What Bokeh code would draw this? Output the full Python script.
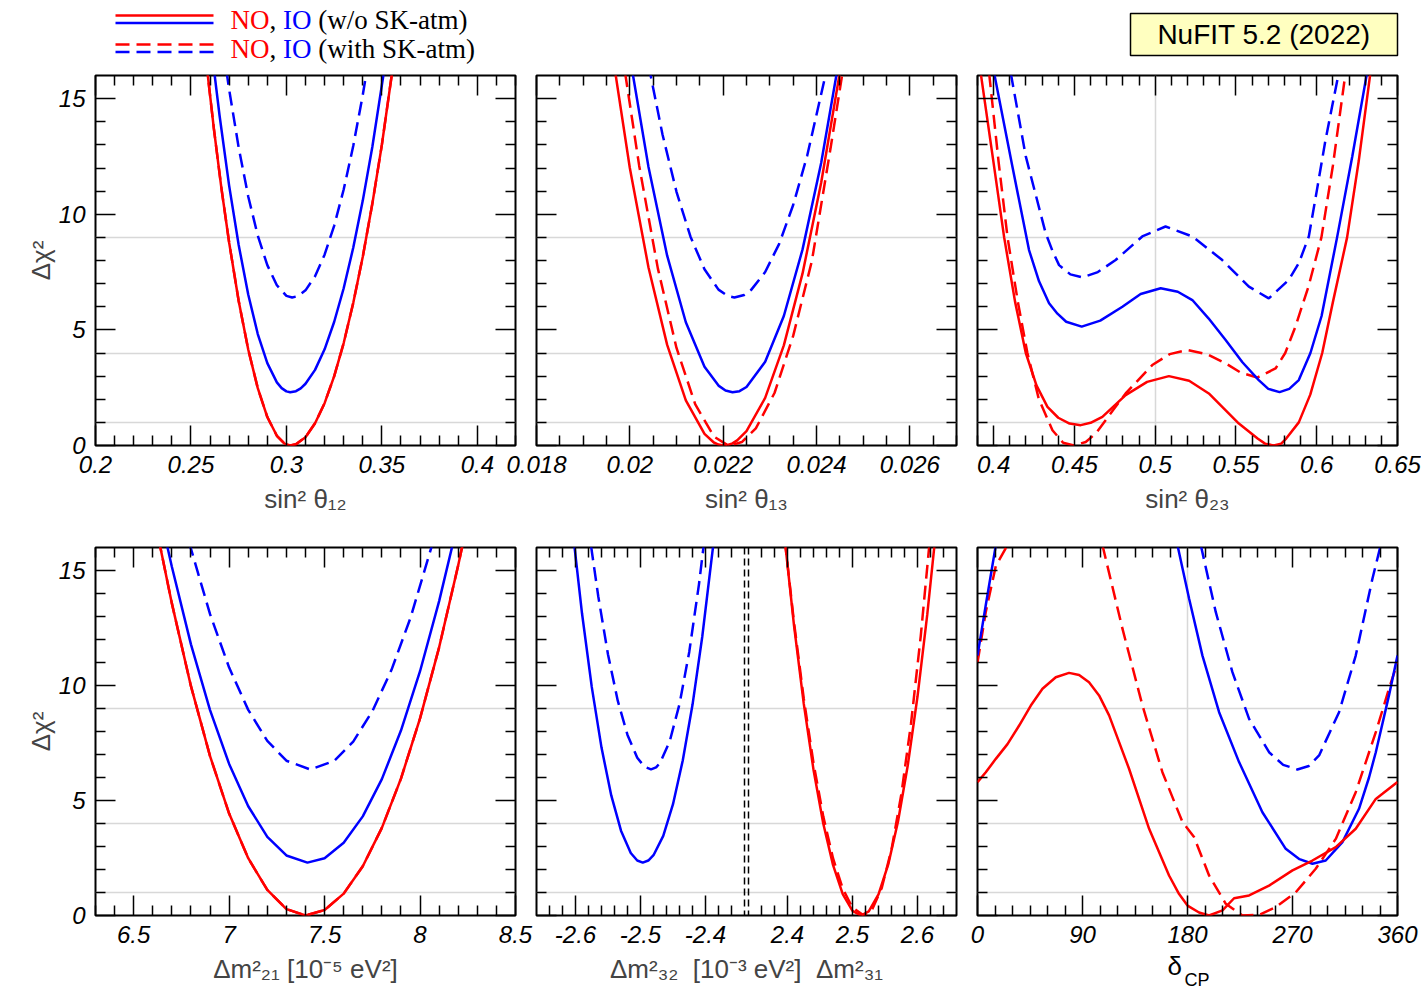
from bokeh.plotting import figure
from bokeh.models import Range1d, LinearAxis, FixedTicker, CustomJSTickFormatter, Span
from bokeh.layouts import column, row
from bokeh.embed import file_html
from bokeh.resources import INLINE
from bokeh.core.properties import value

NAN = float("nan")

# ---------------- data ----------------
# sin^2 theta12
th12_no_x = [0.258, 0.262, 0.266, 0.270, 0.275, 0.280, 0.285, 0.290, 0.295, 0.299, 0.302, 0.305, 0.310,
             0.315, 0.320, 0.325, 0.330, 0.335, 0.340, 0.345, 0.350, 0.356]
th12_no_y = [16.6, 13.7, 11.1, 8.78, 6.25, 4.15, 2.48, 1.23, 0.42, 0.08, 0.0, 0.05, 0.36,
             0.96, 1.83, 2.99, 4.43, 6.16, 8.16, 10.45, 13.0, 16.5]
th12_no_sk_x = th12_no_x
th12_no_sk_y = [16.6, 13.7, 11.1, 8.78, 6.25, 4.15, 2.48, 1.23, 0.42, 0.08, 0.0, 0.05, 0.36,
                0.96, 1.83, 2.99, 4.43, 6.16, 8.16, 10.45, 13.0, 16.5]
th12_io_x = [0.261, 0.265, 0.270, 0.275, 0.280, 0.285, 0.290, 0.295, 0.2975, 0.300, 0.302, 0.305,
             0.3075, 0.310, 0.315, 0.320, 0.325, 0.330, 0.335, 0.340, 0.345, 0.352]
th12_io_y = [16.98, 14.26, 11.24, 8.67, 6.53, 4.82, 3.56, 2.73, 2.48, 2.34, 2.3, 2.35,
             2.47, 2.67, 3.27, 4.16, 5.34, 6.8, 8.55, 10.59, 12.91, 16.65]
th12_io_sk_x = [0.267, 0.270, 0.275, 0.280, 0.285, 0.290, 0.295, 0.300, 0.303, 0.306, 0.310, 0.315,
                0.320, 0.325, 0.330, 0.335, 0.340, 0.344]
th12_io_sk_y = [17.1, 15.4, 12.88, 10.77, 9.08, 7.8, 6.93, 6.47, 6.4, 6.46, 6.71, 7.32,
                8.25, 9.5, 11.07, 12.95, 15.16, 17.16]

# sin^2 theta13
th13_no_x = [0.0196, 0.0200, 0.0204, 0.0208, 0.0212, 0.0216, 0.0218, 0.0219, 0.0220, 0.0221, 0.0222,
             0.0223, 0.0225, 0.0229, 0.0233, 0.0237, 0.0241, 0.0245]
th13_no_y = [17.3, 12.0, 7.7, 4.35, 1.95, 0.5, 0.13, 0.04, 0.0, 0.02, 0.09, 0.22, 0.62, 2.06, 4.33,
             7.43, 11.36, 16.13]
th13_no_sk_x = [0.0199, 0.0202, 0.0206, 0.0210, 0.0214, 0.0218, 0.0221, 0.02215, 0.0224, 0.0227, 0.0231,
                0.0235, 0.0239, 0.0243, 0.0246]
th13_no_sk_y = [16.1, 12.1, 7.66, 4.22, 1.79, 0.39, 0.01, 0.0, 0.15, 0.74, 2.27, 4.74, 7.97, 12.84, 16.67]
th13_io_x = [0.0200, 0.0204, 0.0208, 0.0212, 0.0216, 0.0219, 0.02205, 0.0222, 0.02235, 0.0225, 0.0229,
             0.0233, 0.0237, 0.0241, 0.0245]
th13_io_y = [16.82, 12.04, 8.21, 5.33, 3.41, 2.59, 2.38, 2.3, 2.35, 2.53, 3.62, 5.6, 8.47, 12.22, 16.87]
th13_io_sk_x = [0.0204, 0.0207, 0.0210, 0.0213, 0.0216, 0.0219, 0.0221, 0.02224, 0.02245, 0.0226, 0.0229,
                0.0232, 0.0235, 0.0238, 0.0242]
th13_io_sk_y = [16.46, 13.45, 10.97, 9.03, 7.62, 6.74, 6.46, 6.4, 6.51, 6.73, 7.5, 8.72, 10.4, 12.53, 16.08]

# sin^2 theta23
th23_no_x = [0.392, 0.400, 0.4065, 0.4133, 0.4199, 0.4265, 0.4333, 0.440, 0.447, 0.4539, 0.460, 0.4673,
             0.4817, 0.495, 0.5085, 0.521, 0.5332, 0.5518, 0.5634, 0.568, 0.5734, 0.578, 0.5811,
             0.5889, 0.5960, 0.6034, 0.6100, 0.6188, 0.6260, 0.6332]
th23_no_y = [16.1, 12.2, 9.0, 6.2, 4.0, 2.6, 1.67, 1.2, 0.95, 0.88, 0.98, 1.24,
             2.18, 2.75, 3.0, 2.8, 2.25, 0.95, 0.3, 0.08, 0.0, 0.08, 0.3,
             1.0, 2.2, 4.0, 6.2, 9.0, 12.3, 16.1]
th23_no_sk_x = [0.3972, 0.403, 0.4086, 0.415, 0.4209, 0.428, 0.4364, 0.443, 0.4497, 0.457, 0.4632, 0.472,
                0.4817, 0.4982, 0.509, 0.5199, 0.532, 0.5436, 0.553, 0.5632, 0.5745, 0.5805, 0.5868,
                0.595, 0.6029, 0.610, 0.6178]
th23_no_sk_y = [16.1, 12.3, 9.0, 6.2, 4.0, 2.0, 0.66, 0.12, 0.0, 0.15, 0.52, 1.35,
                2.25, 3.48, 3.95, 4.13, 3.95, 3.55, 3.15, 2.94, 3.33, 4.0, 5.14,
                6.9, 9.0, 12.1, 16.1]
th23_io_x = [0.4003, 0.4116, 0.4219, 0.4281, 0.4343, 0.4395, 0.4449, 0.4545, 0.466, 0.4797, 0.491, 0.5034,
             0.514, 0.5230, 0.533, 0.5436, 0.554, 0.5641, 0.570, 0.5770, 0.583, 0.5889, 0.5961, 0.6030,
             0.6126, 0.622, 0.6311]
th23_io_y = [16.1, 12.06, 8.45, 7.1, 6.15, 5.7, 5.35, 5.14, 5.4, 6.0, 6.55, 6.8,
             6.65, 6.29, 5.5, 4.56, 3.6, 2.83, 2.45, 2.31, 2.45, 2.83, 4.0, 5.6,
             9.0, 12.5, 16.1]
th23_io_sk_x = [0.4106, 0.4199, 0.4322, 0.4365, 0.4405, 0.4475, 0.4549, 0.4645, 0.4755, 0.4920, 0.5064,
                0.5230, 0.5415, 0.5580, 0.5703, 0.5827, 0.589, 0.5951, 0.600, 0.6054, 0.6136]
th23_io_sk_y = [16.1, 12.5, 9.18, 8.4, 7.8, 7.4, 7.27, 7.5, 8.02, 9.04, 9.47,
                9.04, 8.02, 6.87, 6.36, 7.16, 7.9, 9.04, 11.0, 13.2, 16.1]

# delta m^2_21 [1e-5 eV^2]
dm21_no_x = [6.63, 6.7, 6.8, 6.9, 7.0, 7.1, 7.2, 7.3, 7.4, 7.5, 7.6, 7.7, 7.8, 7.9, 8.0, 8.1, 8.2, 8.23]
dm21_no_y = [16.4, 13.57, 9.97, 6.93, 4.43, 2.49, 1.11, 0.28, 0.0, 0.24, 0.95, 2.14, 3.81, 5.95, 8.57,
             11.66, 15.23, 16.4]
dm21_no_sk_x = dm21_no_x
dm21_no_sk_y = [16.4, 13.57, 9.97, 6.93, 4.43, 2.49, 1.11, 0.28, 0.0, 0.24, 0.95, 2.14, 3.81, 5.95, 8.57,
                11.66, 15.23, 16.4]
dm21_io_x = [6.67, 6.7, 6.8, 6.9, 7.0, 7.1, 7.2, 7.3, 7.41, 7.5, 7.6, 7.7, 7.8, 7.9, 8.0, 8.1, 8.17]
dm21_io_y = [16.27, 15.16, 11.79, 8.93, 6.59, 4.75, 3.42, 2.61, 2.3, 2.49, 3.16, 4.31, 5.93, 8.04, 10.62,
             13.67, 16.1]
dm21_io_sk_x = [6.79, 6.9, 7.0, 7.1, 7.2, 7.3, 7.425, 7.55, 7.65, 7.75, 7.85, 7.95, 8.07]
dm21_io_sk_y = [16.23, 13.1, 10.78, 8.94, 7.59, 6.73, 6.35, 6.72, 7.56, 8.88, 10.67, 12.94, 16.3]

# delta m^2_32 (IO) and delta m^2_31 (NO) [1e-3 eV^2]
dm32_io_x = [-2.605, -2.59, -2.575, -2.56, -2.545, -2.53, -2.515, -2.505, -2.4965, -2.488, -2.48, -2.465,
             -2.45, -2.435, -2.42, -2.405, -2.387]
dm32_io_y = [16.9, 13.14, 9.94, 7.3, 5.22, 3.69, 2.72, 2.39, 2.3, 2.39, 2.62, 3.46,
             4.84, 6.74, 9.16, 12.12, 16.36]
dm32_io_sk_x = [-2.576, -2.565, -2.55, -2.535, -2.52, -2.505, -2.494, -2.4838, -2.476, -2.47, -2.455,
                -2.44, -2.425, -2.41, -2.4]
dm32_io_sk_y = [16.05, 13.88, 11.35, 9.34, 7.85, 6.86, 6.47, 6.35, 6.44, 6.63, 7.58, 9.19, 11.46, 14.41,
                16.74]
dm31_no_x = [2.395, 2.41, 2.425, 2.44, 2.455, 2.47, 2.485, 2.5, 2.513, 2.525, 2.54, 2.555, 2.57, 2.585,
             2.6, 2.615, 2.627]
dm31_no_y = [16.56, 12.61, 9.21, 6.34, 4.0, 2.2, 0.93, 0.2, 0.0, 0.18, 0.92, 2.22, 4.09, 6.52, 9.52,
             13.08, 16.34]
dm31_no_sk_x = [2.396, 2.41, 2.425, 2.44, 2.455, 2.47, 2.485, 2.5, 2.5175, 2.53, 2.545, 2.56, 2.575,
                2.59, 2.605, 2.619]
dm31_no_sk_y = [16.29, 12.75, 9.44, 6.63, 4.31, 2.49, 1.17, 0.34, 0.0, 0.25, 1.2, 2.87, 5.25, 8.34,
                12.15, 16.35]

# delta_CP [deg]
dcp_no_x = [0, 7.1, 15.7, 25.7, 35.7, 45.7, 55.7, 67.1, 78.5, 87.1, 95.6, 104.2, 112.8, 129.9, 147.1,
            164.2, 172.8, 180, 189.9, 198.5, 210, 219.9, 232.8, 249.9, 270, 287.1, 307.1, 324.2,
            341.4, 347.1, 360]
dcp_no_y = [5.8, 6.23, 6.81, 7.45, 8.26, 9.13, 9.86, 10.36, 10.55, 10.46, 10.14, 9.57, 8.7, 6.38, 3.77,
            1.74, 0.93, 0.43, 0.13, 0.0, 0.22, 0.75, 0.87, 1.30, 1.96, 2.39, 2.97, 3.77,
            5.07, 5.29, 5.8]
dcp_no_sk_x = [0, 7.1, 15.7, 25.7, NAN, 107.1, 124.3, 141.4, 158.5, 175.7, 185.6, 198.5, 212.8, 227.1,
               241.4, 255.6, 272.8, 289.9, 307.1, 324.2, 341.4, 352.7, 360]
dcp_no_sk_y = [11.0, 13.2, 15.2, 16.1, NAN, 16.1, 12.46, 9.13, 6.23, 4.06, 3.41, 1.74, 0.51, 0.0,
               0.03, 0.36, 1.01, 2.03, 3.33, 5.36, 7.97, 9.86, 11.0]
dcp_io_x = [0, 7.1, 15.7, NAN, 171.4, 181.4, 192.8, 207.1, 224.2, 244.2, 264.2, 276.0, 287.1, 298.5,
            312.8, 327.0, 335.6, 341.4, 352.7, 360]
dcp_io_y = [11.3, 13.5, 16.1, NAN, 16.1, 13.77, 11.3, 8.84, 6.67, 4.49, 2.9, 2.45, 2.25, 2.39,
            3.19, 4.64, 6.0, 7.1, 9.57, 11.3]
dcp_io_sk_x = [191.4, 204.2, 218.5, 232.8, 249.9, 262.0, 274.2, 284.0, 292.8, 309.9, 324.2, 338.5, 345.6]
dcp_io_sk_y = [16.1, 13.2, 10.58, 8.55, 7.1, 6.55, 6.35, 6.5, 6.96, 8.84, 11.3, 14.64, 16.1]

# tick values and labels
Y_MAJOR = [0, 5, 10, 15]
Y_MINOR = [1, 2, 3, 4, 6, 7, 8, 9, 11, 12, 13, 14]
Y_GRID = [1, 4, 9]
TH12_MAJOR = [0.2, 0.25, 0.3, 0.35, 0.4]
TH13_MAJOR = [0.018, 0.02, 0.022, 0.024, 0.026]
TH23_MAJOR = [0.4, 0.45, 0.5, 0.55, 0.6, 0.65]
DM21_MAJOR = [6.5, 7, 7.5, 8, 8.5]
DM32_MAJOR = [-2.6, -2.5, -2.4]
DM31_MAJOR = [2.4, 2.5, 2.6]
DCP_MAJOR = [0, 90, 180, 270, 360]

NB = "\u00a0"
XLABEL_TH12 = "sin² θ₁₂"
XLABEL_TH13 = "sin² θ₁₃"
XLABEL_TH23 = "sin² θ₂₃"
XLABEL_DM21 = "Δm²₂₁ [10⁻⁵ eV²]"
XLABEL_DM3 = "Δm²₃₂" + NB * 2 + "[10⁻³ eV²]" + NB * 2 + "Δm²₃₁"
XLABEL_DCP = ["δ", "CP"]
YLABEL = "Δχ²"
LEG_ROW1 = ["NO", ",", "IO", "(w/o SK-atm)"]
LEG_ROW2 = ["NO", ",", "IO", "(with SK-atm)"]
TITLE_BOX = "NuFIT 5.2 (2022)"

# ---------------- style ----------------
RED = "#ff0000"
BLUE = "#0000ff"
DASH = "14 7"
LW = 2.5
SANS = "Liberation Sans"
SERIF = "Liberation Serif"
FMT = "return String(parseFloat(tick.toFixed(6)));"


def steps(lo, hi, step, exclude=()):
    n = int(round((hi - lo) / step))
    out = []
    for i in range(n + 1):
        v = round(lo + i * step, 6)
        if all(abs(v - e) > 1e-9 for e in exclude):
            out.append(v)
    return out


def style_axis(ax, labels):
    ax.axis_line_color = None
    ax.major_tick_in = 20
    ax.major_tick_out = 0
    ax.minor_tick_in = 10
    ax.minor_tick_out = 0
    ax.major_tick_line_width = 1.5
    ax.minor_tick_line_width = 1.5
    ax.major_tick_line_color = "black"
    ax.minor_tick_line_color = "black"
    if labels:
        ax.major_label_text_font = SANS
        ax.major_label_text_font_style = "italic"
        ax.major_label_text_font_size = "24px"
        ax.major_label_text_color = "black"
    else:
        ax.formatter = CustomJSTickFormatter(code="return '';")
        ax.major_label_text_font_size = "1px"
        ax.major_label_text_color = None
        ax.major_label_text_alpha = 0
        ax.major_label_standoff = 0


def panel(xr, width, bl, br, height, bt, bb, xmajor, xminor, xlabel, ylabels, margin_left=0,
          vgrid=None, xformatter=None, extra=None):
    kw = {}
    if margin_left:
        kw["margin"] = (0, 0, 0, margin_left)
    if extra:
        kw["extra_x_ranges"] = extra
    p = figure(width=width, height=height, x_range=xr, y_range=Range1d(0, 16),
               output_backend="svg", toolbar_location=None,
               min_border_left=bl, min_border_right=br, min_border_top=bt, min_border_bottom=bb, **kw)
    p.border_fill_color = None
    p.background_fill_color = None
    p.outline_line_color = "black"
    p.outline_line_width = 2
    xt = FixedTicker(ticks=xmajor, minor_ticks=xminor)
    yt = FixedTicker(ticks=Y_MAJOR, minor_ticks=Y_MINOR)
    bottom = p.xaxis[0]
    left = p.yaxis[0]
    bottom.ticker = xt
    bottom.formatter = xformatter if xformatter is not None else CustomJSTickFormatter(code=FMT)
    left.ticker = yt
    left.formatter = CustomJSTickFormatter(code=FMT)
    top = LinearAxis(ticker=xt)
    right = LinearAxis(ticker=yt)
    p.add_layout(top, "above")
    p.add_layout(right, "right")
    style_axis(bottom, True)
    bottom.major_label_standoff = 10
    style_axis(left, ylabels)
    if ylabels:
        left.major_label_standoff = 10
        left.axis_label = YLABEL
        left.axis_label_text_font = SANS
        left.axis_label_text_font_style = "normal"
        left.axis_label_text_font_size = "26px"
        left.axis_label_standoff = 0
    style_axis(top, False)
    style_axis(right, False)
    if xlabel:
        bottom.axis_label = xlabel
        bottom.axis_label_text_font = SANS
        bottom.axis_label_text_font_style = "normal"
        bottom.axis_label_text_font_size = "26px"
        bottom.axis_label_standoff = 8
    p.ygrid.ticker = FixedTicker(ticks=Y_GRID)
    p.ygrid.grid_line_color = "#d8d8d8"
    p.ygrid.grid_line_width = 1.5
    if vgrid is None:
        p.xgrid.visible = False
    else:
        p.xgrid.ticker = FixedTicker(ticks=vgrid)
        p.xgrid.grid_line_color = "#d8d8d8"
        p.xgrid.grid_line_width = 1.5
    return p


def curves(p, no, no_sk, io, io_sk, rng_no="default", rng_io="default"):
    if io_sk is not None:
        p.line(io_sk[0], io_sk[1], line_color=BLUE, line_width=LW, line_dash=DASH, x_range_name=rng_io)
    if no_sk is not None:
        p.line(no_sk[0], no_sk[1], line_color=RED, line_width=LW, line_dash=DASH, x_range_name=rng_no)
    if io is not None:
        p.line(io[0], io[1], line_color=BLUE, line_width=LW, x_range_name=rng_io)
    if no is not None:
        p.line(no[0], no[1], line_color=RED, line_width=LW, x_range_name=rng_no)


# ---------------- geometry (page origin at 0,0) ----------------
HH = 70
H1, BT1, BB1 = 465, 5, 90
H2, BT2, BB2 = 457, 12, 77
W1, L1, R1 = 545, 95, 30
W2, L2, R2 = 490, 40, 30
W3, L3, R3 = 484, 40, 24
OVL = -49
TOTAL_W = W1 + W2 + OVL + W3 + OVL

# ---------------- header ----------------
hdr = figure(width=TOTAL_W, height=HH, x_range=Range1d(0, TOTAL_W), y_range=Range1d(HH, 0),
             output_backend="svg", toolbar_location=None, min_border=0,
             x_axis_location=None, y_axis_location=None)
hdr.outline_line_color = None
hdr.border_fill_color = None
hdr.background_fill_color = None
hdr.grid.visible = False
hdr.segment(x0=[115, 115], y0=[15, 22.5], x1=[213, 213], y1=[15, 22.5],
            line_color=[RED, BLUE], line_width=2.5)
hdr.segment(x0=[115, 115], y0=[44, 51.5], x1=[213, 213], y1=[44, 51.5],
            line_color=[RED, BLUE], line_width=2.5, line_dash=DASH)
S = 27
em = {"NO": 1.444, ",": 0.25, " ": 0.25, "IO": 1.055}
x_no = 230
x_comma = x_no + em["NO"] * S
x_io = x_comma + (em[","] + em[" "]) * S
x_rest = x_io + (em["IO"] + em[" "]) * S
for mid, items in ((19, LEG_ROW1), (48, LEG_ROW2)):
    hdr.text(x=[x_no, x_comma, x_io, x_rest], y=[mid] * 4, text=items,
             text_color=[RED, "black", BLUE, "black"], text_font=value(SERIF),
             text_font_size="27px", text_baseline="middle", text_align="left")
hdr.quad(left=[1130], right=[1397], top=[13], bottom=[55], fill_color="#ffffc0",
         line_color="black", line_width=1.5)
hdr.text(x=[1263.5], y=[34], text=[TITLE_BOX], text_font=value(SANS), text_font_size="28px",
         text_align="center", text_baseline="middle", text_color="black")

# ---------------- top row ----------------
f1 = panel(Range1d(0.2, 0.42), W1, L1, R1, H1, BT1, BB1, TH12_MAJOR,
           steps(0.2, 0.42, 0.01, TH12_MAJOR), XLABEL_TH12, True)
curves(f1, (th12_no_x, th12_no_y), (th12_no_sk_x, th12_no_sk_y), (th12_io_x, th12_io_y),
       (th12_io_sk_x, th12_io_sk_y))

f2 = panel(Range1d(0.018, 0.027), W2, L2, R2, H1, BT1, BB1, TH13_MAJOR,
           steps(0.018, 0.027, 0.0005, TH13_MAJOR), XLABEL_TH13, False, margin_left=OVL)
curves(f2, (th13_no_x, th13_no_y), (th13_no_sk_x, th13_no_sk_y), (th13_io_x, th13_io_y),
       (th13_io_sk_x, th13_io_sk_y))

f3 = panel(Range1d(0.39, 0.65), W3, L3, R3, H1, BT1, BB1, TH23_MAJOR,
           steps(0.39, 0.65, 0.01, TH23_MAJOR), XLABEL_TH23, False, margin_left=OVL, vgrid=[0.5])
curves(f3, (th23_no_x, th23_no_y), (th23_no_sk_x, th23_no_sk_y), (th23_io_x, th23_io_y),
       (th23_io_sk_x, th23_io_sk_y))

# ---------------- bottom row ----------------
g1 = panel(Range1d(6.3, 8.5), W1, L1, R1, H2, BT2, BB2, DM21_MAJOR,
           steps(6.3, 8.5, 0.1, DM21_MAJOR), XLABEL_DM21, True)
curves(g1, (dm21_no_x, dm21_no_y), (dm21_no_sk_x, dm21_no_sk_y), (dm21_io_x, dm21_io_y),
       (dm21_io_sk_x, dm21_io_sk_y))

# split axis: IO half on the default range, NO half on an extra range
PX_PER_UNIT = 650.0
FRAME_W = 420
NEG_LO, NEG_HI = -2.66, -2.34
POS_LO, POS_HI = 2.34, 2.66
neg_range = Range1d(NEG_LO, NEG_LO + FRAME_W / PX_PER_UNIT)
pos_start = POS_HI - FRAME_W / PX_PER_UNIT
pos_range = Range1d(pos_start, POS_HI)
OFF = pos_start - NEG_LO
pos_major_d = [round(v - OFF, 9) for v in DM31_MAJOR]
neg_minor = steps(NEG_LO, NEG_HI, 0.02, DM32_MAJOR + [NEG_LO, NEG_HI])
pos_minor_d = [round(v - OFF, 9) for v in steps(POS_LO, POS_HI, 0.02, DM31_MAJOR + [POS_LO, POS_HI])]
split_fmt = CustomJSTickFormatter(args=dict(off=OFF, cut=(NEG_HI + (POS_LO - OFF)) / 2), code="""
const v = tick > cut ? tick + off : tick;
return String(parseFloat(v.toFixed(6)));
""")
g2 = panel(neg_range, W2, L2, R2, H2, BT2, BB2, DM32_MAJOR + pos_major_d, neg_minor + pos_minor_d,
           XLABEL_DM3, False, margin_left=OVL, xformatter=split_fmt, extra={"pos": pos_range})
curves(g2, (dm31_no_x, dm31_no_y), (dm31_no_sk_x, dm31_no_sk_y), (dm32_io_x, dm32_io_y),
       (dm32_io_sk_x, dm32_io_sk_y), rng_no="pos")
for loc in (NEG_HI, POS_LO - OFF):
    g2.add_layout(Span(location=loc, dimension="height", line_color="black", line_width=1.5,
                       line_dash="7 4"))

g3 = panel(Range1d(0, 360), W3, L3, R3, H2, BT2, BB2, DCP_MAJOR,
           steps(0, 360, 15, DCP_MAJOR), None, False, margin_left=OVL, vgrid=[180])
curves(g3, (dcp_no_x, dcp_no_y), (dcp_no_sk_x, dcp_no_sk_y), (dcp_io_x, dcp_io_y),
       (dcp_io_sk_x, dcp_io_sk_y))

# delta_CP axis title (with a real subscript) in a small transparent overlay strip
ROWS_H = HH + H1 + H2
LBL_X0, LBL_W, LBL_H = 1120, 160, 52
lbl = figure(width=LBL_W, height=LBL_H, x_range=Range1d(LBL_X0, LBL_X0 + LBL_W),
             y_range=Range1d(ROWS_H, ROWS_H - LBL_H), output_backend="svg", toolbar_location=None,
             min_border=0, x_axis_location=None, y_axis_location=None,
             margin=(-LBL_H, 0, 0, LBL_X0))
lbl.outline_line_color = None
lbl.border_fill_color = None
lbl.background_fill_color = None
lbl.grid.visible = False
lbl.text(x=[1167], y=[965], text=[XLABEL_DCP[0]], text_font=value(SANS), text_font_size="26px",
         text_baseline="middle", text_align="left", text_color="black")
lbl.text(x=[1184], y=[979], text=[XLABEL_DCP[1]], text_font=value(SANS), text_font_size="18px",
         text_baseline="middle", text_align="left", text_color="black")

layout = column(hdr, row(f1, f2, f3), row(g1, g2, g3), lbl)
open("out.html", "w").write(file_html(layout, INLINE))
